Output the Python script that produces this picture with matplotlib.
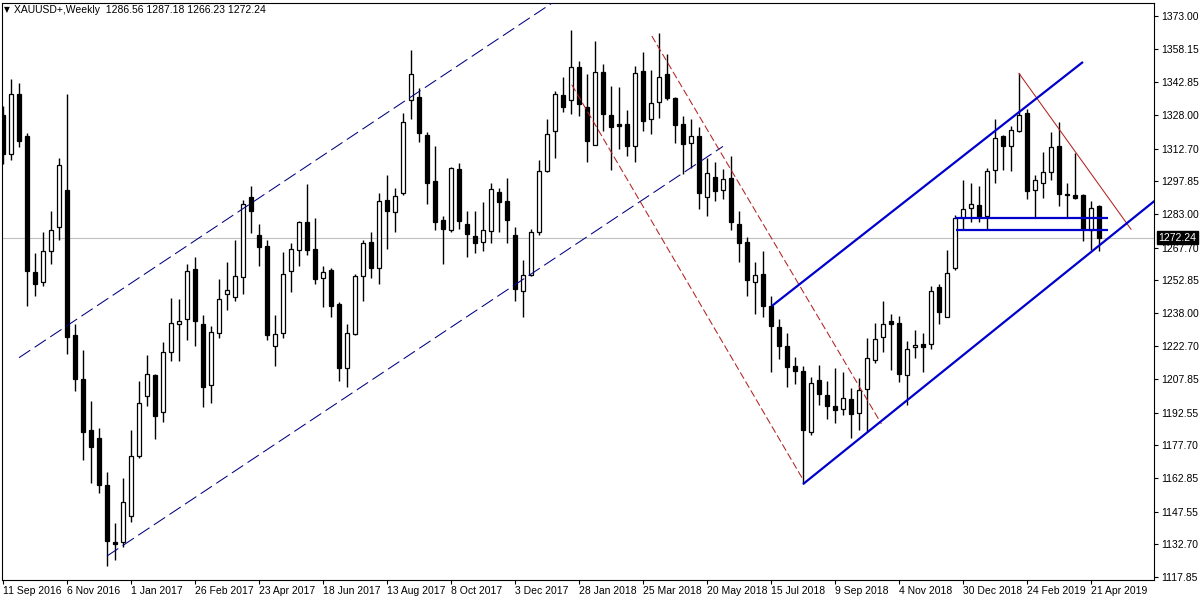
import numpy as np
import matplotlib
matplotlib.use('Agg')
import matplotlib.pyplot as plt
import matplotlib.transforms as mtransforms

# weekly XAUUSD candles, 11 Sep 2016 .. 28 Apr 2019
opens = [1328.1, 1310.3, 1337.3, 1318.5, 1256.6, 1251.9, 1265.9, 1277.2, 1293.9, 1227.9,
         1207.9, 1184.9, 1181.0, 1159.6, 1134.0, 1133.8, 1145.5, 1172.7, 1200.0, 1209.6,
         1192.7, 1220.1, 1232.8, 1235.0, 1258.0, 1232.8, 1205.4, 1228.8, 1246.4, 1245.0,
         1254.2, 1290.8, 1273.4, 1268.5, 1222.8, 1228.8, 1257.0, 1266.4, 1279.3, 1267.1,
         1253.7, 1257.5, 1241.8, 1212.7, 1228.4, 1254.9, 1270.2, 1258.6, 1289.4, 1283.8,
         1292.4, 1334.7, 1336.1, 1319.0, 1298.1, 1280.3, 1275.8, 1303.3, 1278.4, 1272.8,
         1270.2, 1275.1, 1292.9, 1288.9, 1273.2, 1247.9, 1255.1, 1274.6, 1302.5, 1320.8,
         1336.9, 1334.7, 1349.8, 1331.7, 1314.3, 1347.4, 1328.1, 1323.9, 1323.9, 1313.8,
         1348.1, 1326.0, 1333.8, 1346.4, 1335.6, 1323.9, 1315.2, 1318.5, 1290.6, 1299.8,
         1293.7, 1299.5, 1278.4, 1270.2, 1252.0, 1255.8, 1241.1, 1231.6, 1222.7, 1213.6,
         1211.4, 1183.6, 1207.5, 1200.6, 1195.7, 1194.1, 1198.8, 1192.4, 1203.2, 1216.7,
         1227.2, 1234.2, 1233.3, 1209.6, 1222.4, 1223.7, 1223.7, 1249.7, 1236.3, 1258.4,
         1281.2, 1285.6, 1287.1, 1282.1, 1303.0, 1318.5, 1313.8, 1320.8, 1328.9, 1293.7,
         1297.2, 1302.1, 1313.8, 1292.0, 1291.5, 1291.7, 1275.5, 1286.56]
highs = [1332.1, 1344.3, 1342.5, 1319.9, 1265.0, 1274.9, 1284.5, 1308.2, 1337.3, 1233.1,
         1221.1, 1197.9, 1185.7, 1165.7, 1142.2, 1163.1, 1184.9, 1207.0, 1218.8, 1210.1,
         1224.9, 1244.9, 1244.1, 1260.1, 1263.6, 1237.1, 1231.9, 1253.3, 1261.2, 1271.1,
         1289.4, 1295.8, 1278.4, 1271.1, 1236.8, 1265.5, 1269.9, 1279.8, 1296.4, 1281.2,
         1259.2, 1258.4, 1242.9, 1232.8, 1255.8, 1271.1, 1274.6, 1292.5, 1300.7, 1294.6,
         1329.0, 1357.7, 1340.3, 1320.4, 1313.8, 1281.9, 1304.5, 1306.3, 1284.2, 1284.5,
         1288.5, 1296.9, 1294.6, 1299.3, 1277.2, 1262.0, 1276.0, 1307.7, 1326.3, 1339.0,
         1345.1, 1366.4, 1352.6, 1346.4, 1361.7, 1351.2, 1341.3, 1340.8, 1330.3, 1350.4,
         1356.8, 1348.6, 1365.2, 1355.9, 1336.0, 1327.4, 1326.3, 1322.5, 1308.2, 1306.5,
         1303.3, 1309.4, 1284.2, 1272.3, 1261.0, 1266.2, 1245.5, 1235.4, 1228.8, 1217.9,
         1213.6, 1208.7, 1214.5, 1207.0, 1212.7, 1211.0, 1204.0, 1208.4, 1226.7, 1233.3,
         1243.2, 1237.5, 1236.6, 1225.3, 1230.2, 1228.8, 1250.2, 1251.1, 1266.4, 1282.4,
         1298.4, 1297.2, 1295.8, 1303.8, 1326.3, 1319.0, 1322.8, 1346.9, 1330.9, 1300.7,
         1311.2, 1320.4, 1324.6, 1296.9, 1310.8, 1292.0, 1289.0, 1287.18]
lows = [1305.9, 1307.7, 1313.3, 1241.1, 1245.8, 1250.2, 1260.1, 1271.1, 1219.4, 1202.6,
        1170.9, 1160.8, 1156.1, 1122.7, 1125.6, 1131.7, 1143.0, 1171.8, 1195.7, 1180.5,
        1188.4, 1216.2, 1216.2, 1225.8, 1222.7, 1195.0, 1197.1, 1226.7, 1239.2, 1243.6,
        1246.7, 1274.2, 1259.3, 1225.5, 1213.9, 1226.7, 1247.6, 1259.2, 1264.5, 1251.1,
        1240.6, 1235.9, 1207.0, 1204.4, 1228.1, 1243.6, 1254.0, 1251.1, 1267.1, 1274.9,
        1291.7, 1326.0, 1315.5, 1287.6, 1275.5, 1260.3, 1274.6, 1276.3, 1263.6, 1265.3,
        1265.9, 1269.9, 1274.6, 1269.9, 1243.6, 1236.3, 1254.6, 1273.4, 1302.1, 1308.2,
        1329.5, 1328.2, 1327.4, 1306.8, 1314.1, 1320.8, 1302.8, 1312.6, 1309.4, 1306.8,
        1320.8, 1319.4, 1326.8, 1334.7, 1315.2, 1301.2, 1303.8, 1285.0, 1281.9, 1289.0,
        1289.7, 1275.5, 1261.2, 1245.8, 1237.6, 1236.3, 1211.0, 1217.1, 1204.4, 1205.8,
        1160.1, 1182.6, 1196.2, 1189.6, 1187.8, 1191.5, 1180.9, 1184.5, 1184.0, 1215.3,
        1220.1, 1211.9, 1206.6, 1196.2, 1217.6, 1211.0, 1221.5, 1232.8, 1235.9, 1257.7,
        1275.8, 1279.3, 1279.3, 1275.8, 1297.2, 1302.8, 1302.5, 1320.4, 1289.9, 1281.0,
        1290.3, 1298.4, 1286.4, 1281.2, 1289.7, 1270.8, 1266.4, 1266.23]
closes = [1310.3, 1337.6, 1316.0, 1256.8, 1250.9, 1266.2, 1275.8, 1305.1, 1227.2, 1207.9,
          1184.0, 1177.0, 1159.6, 1134.4, 1133.0, 1151.8, 1172.7, 1197.1, 1210.1, 1191.0,
          1220.1, 1233.6, 1234.2, 1256.8, 1234.5, 1204.4, 1229.1, 1244.1, 1248.6, 1254.6,
          1287.3, 1284.4, 1268.0, 1228.1, 1228.4, 1255.8, 1267.1, 1279.5, 1266.7, 1253.3,
          1256.6, 1241.1, 1213.1, 1228.8, 1254.9, 1269.9, 1258.4, 1288.9, 1284.2, 1291.1,
          1324.8, 1346.5, 1319.9, 1296.9, 1279.5, 1276.3, 1303.8, 1279.8, 1273.7, 1269.7,
          1275.5, 1294.3, 1288.2, 1280.3, 1248.8, 1255.1, 1274.9, 1302.5, 1319.4, 1337.6,
          1331.6, 1350.0, 1333.0, 1316.0, 1347.4, 1328.6, 1322.5, 1323.0, 1313.8, 1346.9,
          1325.1, 1333.5, 1345.1, 1335.6, 1323.4, 1315.0, 1318.5, 1292.4, 1301.6, 1293.4,
          1299.0, 1279.5, 1269.7, 1252.8, 1255.1, 1241.1, 1231.9, 1222.7, 1213.3, 1211.4,
          1184.9, 1206.1, 1200.9, 1195.8, 1193.6, 1199.1, 1192.2, 1202.8, 1217.6, 1226.3,
          1233.1, 1232.8, 1210.1, 1221.5, 1223.2, 1222.4, 1248.1, 1238.5, 1255.9, 1281.2,
          1285.0, 1287.3, 1281.6, 1302.5, 1317.6, 1313.8, 1321.1, 1328.1, 1293.4, 1298.4,
          1302.0, 1313.4, 1292.0, 1291.5, 1290.3, 1276.0, 1285.9, 1272.24]

date_labels = ['11 Sep 2016', '6 Nov 2016', '1 Jan 2017', '26 Feb 2017', '23 Apr 2017',
               '18 Jun 2017', '13 Aug 2017', '8 Oct 2017', '3 Dec 2017', '28 Jan 2018',
               '25 Mar 2018', '20 May 2018', '15 Jul 2018', '9 Sep 2018', '4 Nov 2018',
               '30 Dec 2018', '24 Feb 2019', '21 Apr 2019']
price_ticks = [1373.00, 1358.15, 1342.85, 1328.00, 1312.70, 1297.85, 1283.00, 1267.70,
               1252.85, 1238.00, 1222.70, 1207.85, 1192.55, 1177.70, 1162.85, 1147.55,
               1132.70, 1117.85]
last_price = 1272.24

# trendlines: (bar, price) endpoints
navy_upper = [(2, 1217.6), (75, 1394.3)]
navy_lower = [(13, 1127.4), (90, 1313.7)]
red_upper = [(81.1, 1363.9), (109.8, 1187.5)]
red_lower = [(71.1, 1341.7), (100.0, 1162.2)]
blue_upper = [(96.1, 1241.1), (135.0, 1352.1)]
blue_lower = [(100.0, 1160.1), (145.0, 1292.0)]
blue_level_hi = [(119.0, 1281.0), (138.1, 1281.0)]
blue_level_lo = [(119.1, 1275.8), (138.1, 1275.8)]
red_thin = [(127, 1346.9), (141, 1276.0)]

plt.rcParams['font.family'] = ['Liberation Sans', 'DejaVu Sans']

fig = plt.figure(figsize=(12, 6), dpi=100)
ax = fig.add_axes([2 / 1200, 20 / 600, 1152 / 1200, 577 / 600])

o = np.array(opens)
h = np.array(highs)
l = np.array(lows)
c = np.array(closes)
x = np.arange(len(o))

ax.axhline(last_price, color='#c0c0c0', lw=0.8, zorder=1)

ax.vlines(x, l, h, color='black', lw=1.0, zorder=2)
up = c >= o
body_lo = np.minimum(o, c)
body_h = np.maximum(np.abs(c - o), 0.4)
ax.bar(x[up], body_h[up], bottom=body_lo[up], width=0.62, color='white',
       edgecolor='black', linewidth=0.9, zorder=3)
ax.bar(x[~up], body_h[~up], bottom=body_lo[~up], width=0.62, color='black',
       edgecolor='black', linewidth=0.9, zorder=3)


def seg(pts, **kw):
    (x0, y0), (x1, y1) = pts
    ax.plot([x0, x1], [y0, y1], zorder=4, **kw)


seg(navy_upper, color='#000080', lw=0.75, ls=(0, (13, 5)))
seg(navy_lower, color='#000080', lw=0.75, ls=(0, (13, 5)))
seg(red_upper, color='#b22222', lw=0.75, ls=(0, (7, 3)))
seg(red_lower, color='#b22222', lw=0.75, ls=(0, (7, 3)))
seg(red_thin, color='#b22222', lw=0.75)
for pts in [blue_upper, blue_lower, blue_level_hi, blue_level_lo]:
    seg(pts, color='#0000cd', lw=1.6, solid_capstyle='butt')

ax.set_xlim(-0.125, 143.875)
ax.set_ylim(1116.5, 1378.9)

ax.yaxis.tick_right()
ax.set_yticks(price_ticks)
ax.set_yticklabels(['%.2f' % v for v in price_ticks])
ax.set_xticks(np.arange(0, len(o), 8)[:len(date_labels)])
ax.set_xticklabels(date_labels, ha='left')
ax.tick_params(axis='both', labelsize=7.5, length=3, width=0.8, color='black', pad=2)
ax.tick_params(axis='x', pad=1.5)
for s in ax.spines.values():
    s.set_linewidth(0.8)

# current price marker on the right axis
trans = mtransforms.blended_transform_factory(ax.transAxes, ax.transData)
ax.text(1.004, last_price, '%.2f' % last_price, transform=trans, color='white',
        fontsize=7.5, va='center', ha='left',
        bbox=dict(boxstyle='square,pad=0.15', fc='black', ec='black'))

fig.text(4 / 1200, 1 - 10 / 600, '\u25bc', fontsize=5.5, va='center', ha='left',
         family='DejaVu Sans')
fig.text(14 / 1200, 1 - 10 / 600,
         'XAUUSD+,Weekly  1286.56 1287.18 1266.23 1272.24',
         fontsize=7.5, va='center', ha='left')

fig.savefig('out.png', dpi=100)
